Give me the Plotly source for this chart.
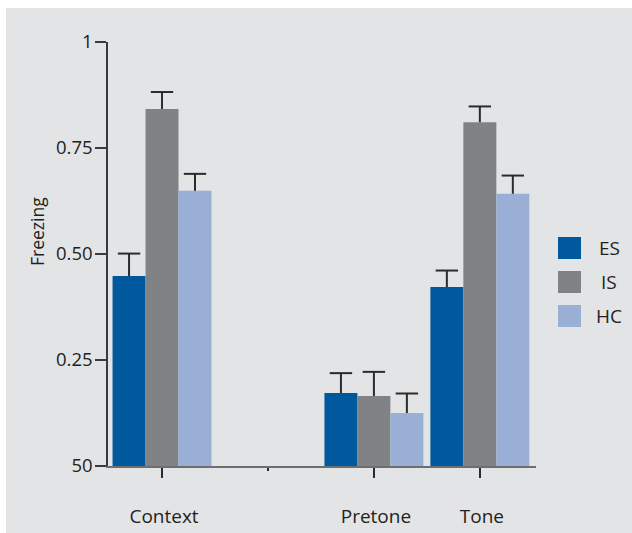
import plotly.graph_objects as go

# Conditions on the x axis (position 1 is an empty slot between Context and Pretone)
conditions = ["Context", "Pretone", "Tone"]
condition_pos = [0, 2, 3]

groups = ["ES", "IS", "HC"]
colors = ["#00599c", "#808285", "#9aafd5"]

# Mean freezing per group, one value per condition
es_mean = [0.448, 0.172, 0.422]
is_mean = [0.842, 0.165, 0.811]
hc_mean = [0.649, 0.125, 0.642]

# Upper error (SEM) per group
es_err = [0.053, 0.047, 0.039]
is_err = [0.040, 0.057, 0.037]
hc_err = [0.040, 0.046, 0.043]

y_tickvals = [0, 0.25, 0.5, 0.75, 1]
y_ticktext = ["50", "0.25", "0.50", "0.75", "1"]

W, H = 632, 533
L, R, T, B = 108, 96, 42, 67
PW, PH = W - L - R, H - T - B

font_family = "Open Sans, Noto Sans, sans-serif"
text_color = "#231f20"
err_color = "#2b2b2b"

# Side-by-side bars: each bar is a third of the group width
group_width = 0.934
bar_w = group_width / len(groups)

fig = go.Figure()
for i, (name, color, means, errs) in enumerate(zip(groups, colors,
                                                   [es_mean, is_mean, hc_mean],
                                                   [es_err, is_err, hc_err])):
    offset = (i - 1) * bar_w
    xs = [p + offset for p in condition_pos]
    fig.add_trace(go.Bar(
        x=xs, y=means, width=bar_w, name=name, marker_color=color,
        marker_line_width=0, showlegend=False,
    ))
    # Upward-only error bar: stem from the bar top, cap at mean + error
    tops = [m + e for m, e in zip(means, errs)]
    fig.add_trace(go.Scatter(
        x=xs, y=tops, mode="markers", showlegend=False, hoverinfo="skip",
        marker=dict(symbol="line-ew", size=16, color=err_color,
                    line=dict(width=2, color=err_color)),
        error_y=dict(type="data", symmetric=False, array=[0] * len(errs),
                     arrayminus=errs, color=err_color, thickness=2, width=0),
    ))


def px_x(p):
    return (p - L) / PW


def px_y(p):
    return (H - B - p) / PH


# Grey panel behind the chart
shapes = [dict(type="rect", xref="paper", yref="paper", layer="below",
               x0=px_x(6), x1=px_x(W + 2), y0=px_y(H + 2), y1=px_y(8),
               fillcolor="#e3e4e6", line_width=0)]

# Legend: coloured squares with centred labels
annotations = []
for i, (name, color) in enumerate(zip(groups, colors)):
    top = 237 + i * 34
    shapes.append(dict(type="rect", xref="paper", yref="paper",
                       x0=px_x(558), x1=px_x(581), y0=px_y(top + 22), y1=px_y(top),
                       fillcolor=color, line_width=0))
    annotations.append(dict(xref="paper", yref="paper", x=px_x(609), y=px_y(top + 11),
                            text=name, showarrow=False, xanchor="center", yanchor="middle",
                            font=dict(size=19, color=text_color, family=font_family)))

annotations.append(dict(xref="paper", yref="paper", x=px_x(37), y=px_y(232),
                        text="Freezing", textangle=-90, showarrow=False,
                        xanchor="center", yanchor="middle",
                        font=dict(size=17.5, color=text_color, family=font_family)))

fig.update_layout(
    width=W, height=H,
    margin=dict(l=L, r=R, t=T, b=B, pad=0, autoexpand=False),
    paper_bgcolor="white", plot_bgcolor="rgba(0,0,0,0)",
    barmode="overlay",
    shapes=shapes, annotations=annotations,
    font=dict(family=font_family, color=text_color, size=18),
    xaxis=dict(
        range=[-0.51, 3.53], tickmode="array", tickvals=condition_pos,
        ticktext=conditions, ticks="outside", ticklen=10, tickwidth=1.5,
        tickcolor="#2b2b2b", showline=True, linecolor="#6d6e70", linewidth=2,
        showgrid=False, zeroline=False, ticklabelstandoff=22, ticklabelshift=2,
        automargin=False, tickfont=dict(size=19),
        minor=dict(tickmode="array", tickvals=[1], ticks="outside", ticklen=3,
                   tickwidth=1.5, tickcolor="#2b2b2b", showgrid=False),
    ),
    yaxis=dict(
        range=[0, 1], tickmode="array", tickvals=y_tickvals, ticktext=y_ticktext,
        ticks="outside", ticklen=11, tickwidth=1.5, tickcolor="#3a3a3a",
        showline=True, linecolor="#3a3a3a", linewidth=1.5,
        showgrid=False, zeroline=False, ticklabelstandoff=-1, automargin=False,
        tickfont=dict(size=18.5),
    ),
)

fig.write_html("out.html")
